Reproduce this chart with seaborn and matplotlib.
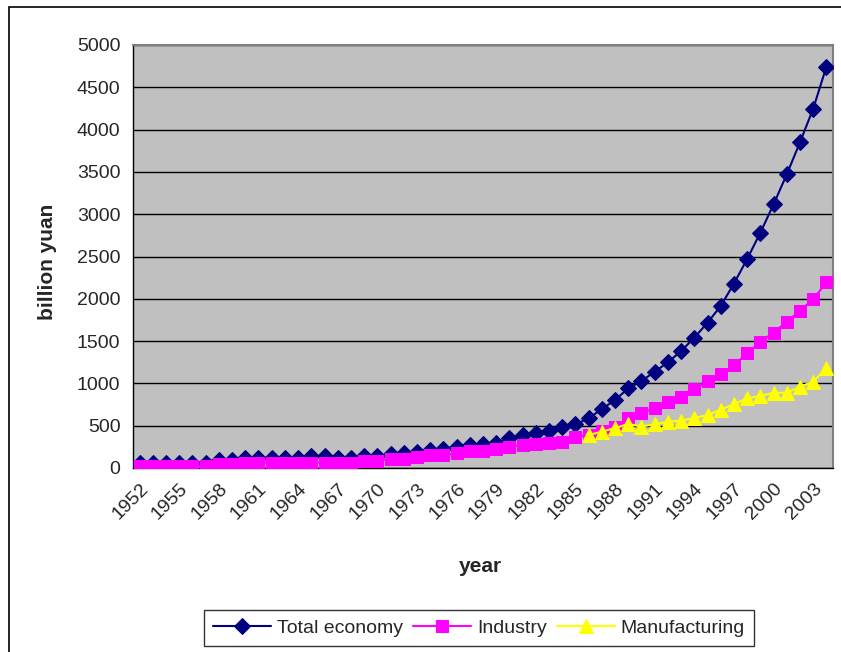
import numpy as np
import pandas as pd
import seaborn as sns
import matplotlib.pyplot as plt
from matplotlib.patches import Rectangle

# values (billion yuan)
years = list(range(1952, 2005))
total_economy = [63, 63, 63, 63, 63, 63, 95, 95, 115, 115,
                 115, 115, 115, 142, 142, 122, 120, 140, 142, 162,
                 181, 189, 213, 228, 252, 272, 284, 299, 351, 390,
                 410, 437, 481, 516, 587, 697, 804, 942, 1028, 1138,
                 1249, 1383, 1540, 1718, 1915, 2180, 2470, 2782, 3117, 3471,
                 3850, 4247, 4743]
industry = [24, 24, 24, 24, 24, 24, 44, 44, 63, 63,
            63, 63, 63, 63, 63, 63, 63, 87, 87, 106,
            106, 134, 150, 150, 173, 197, 205, 221, 252, 272,
            284, 295, 311, 363, 395, 432, 490, 587, 646, 713,
            776, 843, 934, 1028, 1107, 1217, 1355, 1493, 1600, 1730,
            1860, 1994, 2195]
manuf_years = list(range(1986, 2005))
manufacturing = [390, 430, 472, 520, 490, 517, 547, 560, 590, 626,
                 690, 755, 824, 851, 890, 890, 961, 1020, 1180]

df_total = pd.DataFrame({'year': years, 'value': total_economy})
df_ind = pd.DataFrame({'year': years, 'value': industry})
df_man = pd.DataFrame({'year': manuf_years, 'value': manufacturing})

sns.set_style('white')
plt.rcParams['font.family'] = ['Liberation Sans', 'DejaVu Sans']

fig = plt.figure(figsize=(8.41, 6.52), dpi=100)
ax = fig.add_axes([133 / 841, 1 - 468 / 652, 700 / 841, 423 / 652])
ax.set_facecolor('#C0C0C0')

sns.lineplot(data=df_total, x='year', y='value', ax=ax, color='#000080',
             marker='D', markersize=8, markeredgecolor='#000080', linewidth=1.5,
             label='Total economy', zorder=3)
sns.lineplot(data=df_ind, x='year', y='value', ax=ax, color='#FF00FF',
             marker='s', markersize=8, markeredgecolor='#FF00FF', linewidth=1.5,
             label='Industry', zorder=4)
sns.lineplot(data=df_man, x='year', y='value', ax=ax, color='#FFFF00',
             marker='^', markersize=10, markeredgecolor='#FFFF00', linewidth=1.5,
             label='Manufacturing', zorder=5)

ax.set_xlim(1951.5, 2004.5)
ax.set_ylim(0, 5000)
ax.set_yticks(np.arange(0, 5001, 500))
ax.yaxis.grid(True, color='black', linewidth=1)
ax.set_axisbelow(True)

ax.set_xticks(years[::3])
ax.set_xticklabels([str(y) for y in years[::3]], rotation=45, ha='right',
                   rotation_mode='anchor', fontsize=14)
ax.set_xticks(np.arange(1951.5, 2005, 1), minor=True)
ax.tick_params(axis='x', which='major', length=0, pad=9)
ax.tick_params(axis='x', which='minor', length=5, width=1, color='black', direction='out')
ax.tick_params(axis='y', length=5, width=1, color='black', direction='out', labelsize=14, pad=4)

for side in ['top', 'right']:
    ax.spines[side].set_color('#808080')
    ax.spines[side].set_linewidth(1.5)
for side in ['left', 'bottom']:
    ax.spines[side].set_color('black')
    ax.spines[side].set_linewidth(1)

ax.set_xlabel('year', fontsize=15, fontweight='bold')
ax.set_ylabel('billion yuan', fontsize=15, fontweight='bold')
ax.xaxis.set_label_coords((480 - 133) / 700, (468 - 557) / 423)
ax.yaxis.set_label_coords((57 - 133) / 700, (468 - 262) / 423)

ax.legend_.remove()
handles, labels = ax.get_legend_handles_labels()
leg = fig.legend(handles, labels, loc='center', bbox_to_anchor=(479 / 841, 1 - 628 / 652),
                 ncol=3, frameon=True, fancybox=False, fontsize=14, handlelength=3,
                 columnspacing=0.5, handletextpad=0.3, borderpad=0.45)
leg.get_frame().set_edgecolor('black')
leg.get_frame().set_linewidth(1)

# outer chart border (only left and top visible in the crop)
fig.patches.append(Rectangle((9 / 841, -0.1), 1.2, 0.1 + (652 - 7) / 652,
                             transform=fig.transFigure, fill=False,
                             edgecolor='black', linewidth=1.2))

fig.savefig('out.png', dpi=100, facecolor='white')
